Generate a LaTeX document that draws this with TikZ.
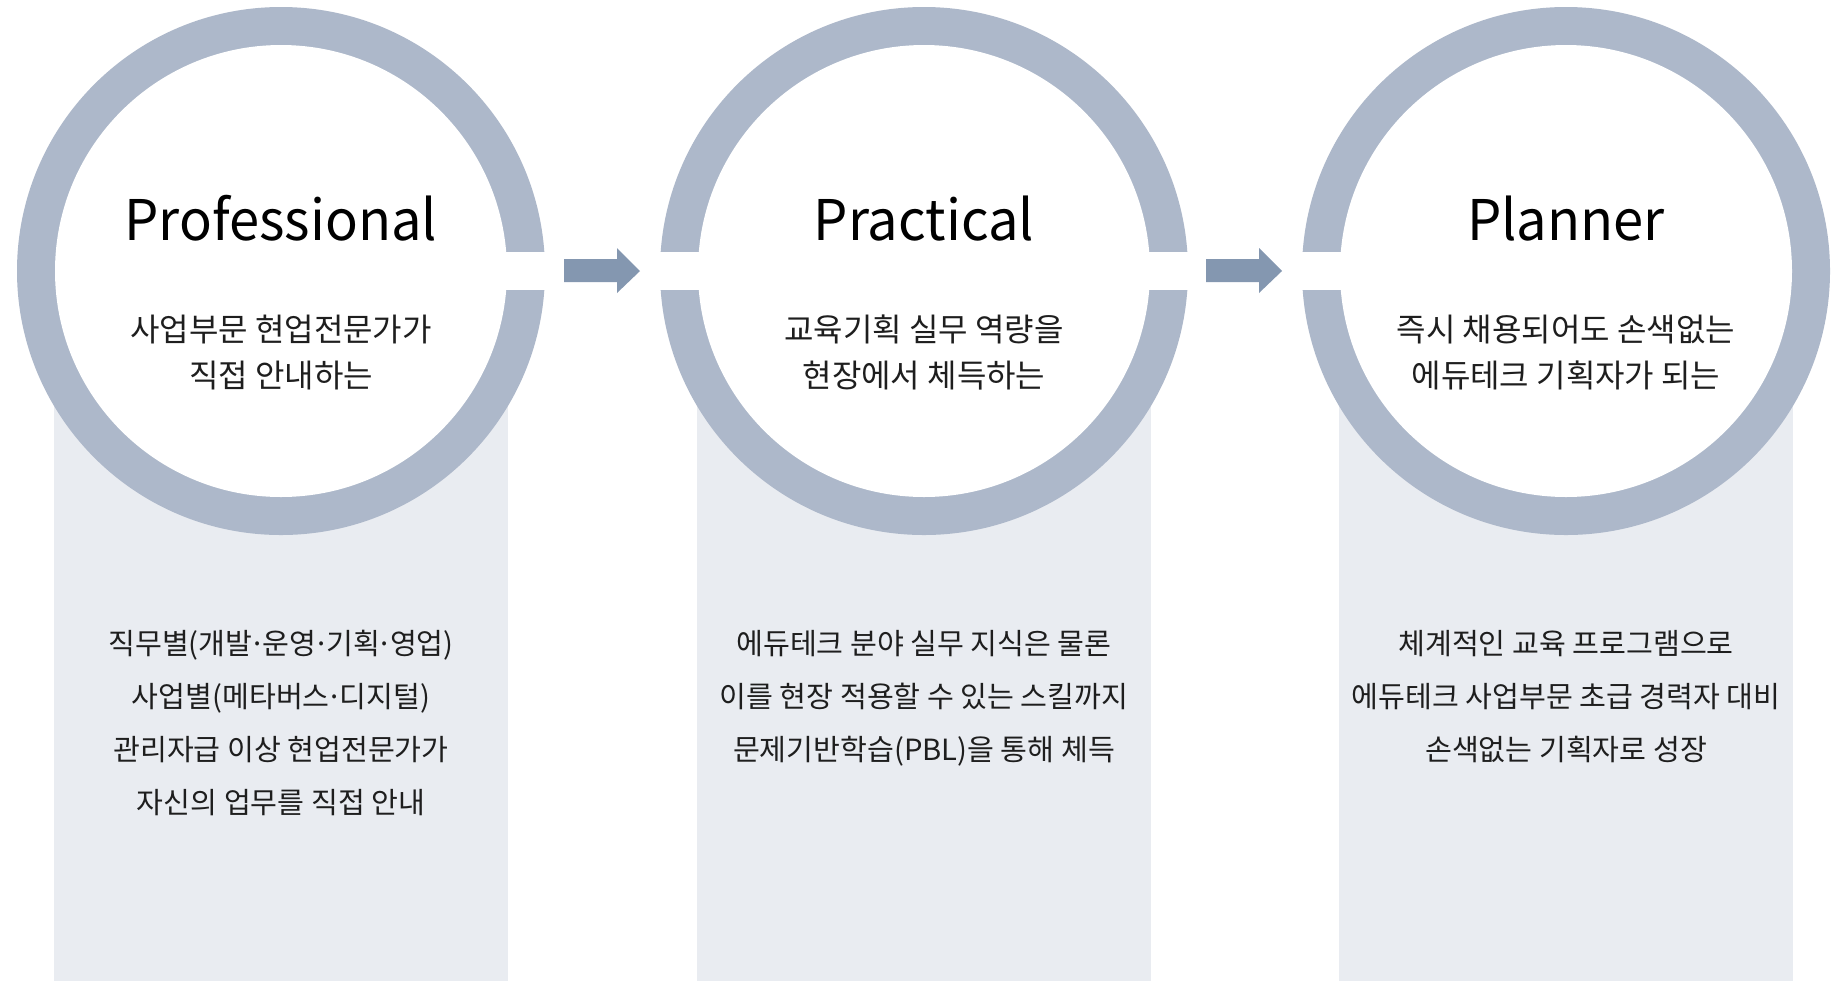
\documentclass[tikz,border=0pt]{standalone}
\usepackage{fontspec}
\setmainfont{Noto Sans CJK KR}
\newfontfamily\titlefont[FakeStretch=0.97]{Noto Sans CJK KR}
\definecolor{ringcol}{HTML}{ADB8CA}
\definecolor{arrowcol}{HTML}{8497B0}
\definecolor{boxcol}{HTML}{E9ECF1}
\definecolor{txtcol}{HTML}{1E1E1E}
\newcommand\mdot{\kern-1.6pt·\kern-1.6pt}
\begin{document}
\begin{tikzpicture}[x=0.5pt,y=-0.5pt,
  panel/.style={fill=boxcol},
  ringouter/.style={fill=ringcol},
  ringinner/.style={fill=white},
  gapband/.style={fill=white},
  blockarrow/.style={fill=arrowcol},
  titletext/.style={anchor=base,inner sep=0pt,text=black,font=\titlefont\fontsize{28}{34}\selectfont},
  subtext/.style={anchor=base,inner sep=0pt,text=txtcol,font=\fontsize{16}{19}\selectfont},
  bodytext/.style={anchor=base,inner sep=0pt,text=txtcol,font=\fontsize{14.6}{17}\selectfont}]
\useasboundingbox (0,0) rectangle (1847,981);
\fill[white] (0,0) rectangle (1847,981);
% centres
\coordinate (c1) at (281,271);
\coordinate (c2) at (924,271);
\coordinate (c3) at (1566,271);
% panels
\fill[panel] (54,300) rectangle (508,981);
\fill[panel] (697,300) rectangle (1151,981);
\fill[panel] (1339,300) rectangle (1793,981);
% rings
\foreach \c in {c1,c2,c3}{
  \fill[ringouter] (\c) circle[radius=132pt];
  \fill[ringinner] (\c) circle[radius=113pt];
}
% gaps in the rings
\fill[gapband] (481,252) rectangle (724,290);
\fill[gapband] (1123,252) rectangle (1366,290);
% arrows
\coordinate (a1) at (640,271);
\coordinate (a2) at (1282,271);
\foreach \a in {a1,a2}{
  \fill[blockarrow,shift={(\a)}] (-76,-12) -- (-23,-12) -- (-23,-23) -- (0,0) -- (-23,22) -- (-23,11) -- (-76,11) -- cycle;
}
% titles
\node[titletext] (t1) at (281,240) {Professional};
\node[titletext] (t2) at (924,240) {Practical};
\node[titletext] (t3) at (1566,240) {Planner};
% subtitles
\node[subtext] (s1a) at (281,341) {사업부문 현업전문가가};
\node[subtext] (s1b) at (281,387) {직접 안내하는};
\node[subtext] (s2a) at (924,341) {교육기획 실무 역량을};
\node[subtext] (s2b) at (924,387) {현장에서 체득하는};
\node[subtext] (s3a) at (1566,341) {즉시 채용되어도 손색없는};
\node[subtext] (s3b) at (1566,387) {에듀테크 기획자가 되는};
% body texts
\node[bodytext] (b1a) at (281,654) {직무별(개발\mdot 운영\mdot 기획\mdot 영업)};
\node[bodytext] (b1b) at (281,707) {사업별(메타버스\mdot 디지털)};
\node[bodytext] (b1c) at (281,760) {관리자급 이상 현업전문가가};
\node[bodytext] (b1d) at (281,813) {자신의 업무를 직접 안내};
\node[bodytext] (b2a) at (924,654) {에듀테크 분야 실무 지식은 물론};
\node[bodytext] (b2b) at (924,707) {이를 현장 적용할 수 있는 스킬까지};
\node[bodytext] (b2c) at (924,760) {문제기반학습(PBL)을 통해 체득};
\node[bodytext] (b3a) at (1566,654) {체계적인 교육 프로그램으로};
\node[bodytext] (b3b) at (1566,707) {에듀테크 사업부문 초급 경력자 대비};
\node[bodytext] (b3c) at (1566,760) {손색없는 기획자로 성장};
\end{tikzpicture}
\end{document}
